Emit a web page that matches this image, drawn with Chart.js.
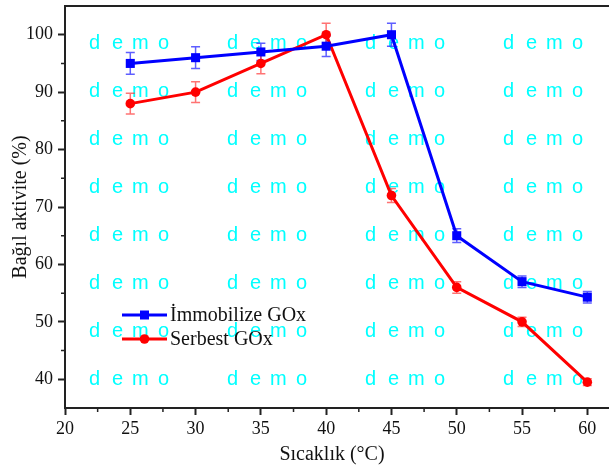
<!DOCTYPE html>
<html>
<head>
<meta charset="utf-8">
<script src="https://cdn.jsdelivr.net/npm/chart.js@4.4.1/dist/chart.umd.min.js"></script>
<style>
html, body { margin: 0; padding: 0; background: #fff; }
canvas { display: block; }
</style>
</head>
<body>
<canvas id="chart" width="609" height="471"></canvas>
<script>
const temps = [25, 30, 35, 40, 45, 50, 55, 60];
const immobilize = [95, 96, 97, 98, 100, 65, 57, 54.3];
const immobilizeErr = [1.9, 1.9, 1.5, 1.8, 2.0, 1.2, 1.0, 1.0];
const serbest = [88, 90, 95, 100, 72, 56, 50, 39.5];
const serbestErr = [1.8, 1.8, 1.8, 2.0, 1.2, 1.0, 0.8, 0.6];
const xTicks = [20, 25, 30, 35, 40, 45, 50, 55, 60];
const yTicks = [40, 50, 60, 70, 80, 90, 100];
const seriesNames = ["İmmobilize GOx", "Serbest GOx"];

const serif = "'Liberation Serif', 'Times New Roman', serif";
const axisColor = "#222";

const toPoints = (ys) => temps.map((t, i) => ({ x: t, y: ys[i] }));

// cyan "d e m o" watermark behind the data
const watermark = {
    id: "watermark",
    beforeDatasetsDraw(chart) {
        const ctx = chart.ctx;
        ctx.save();
        ctx.fillStyle = "#00ffff";
        ctx.font = "20px 'Liberation Sans', Arial, sans-serif";
        ctx.textBaseline = "middle";
        const letters = ["d", "e", "m", "o"];
        const offs = [0, 23, 43, 69];
        for (let r = 0; r < 8; r++) {
            for (let c = 0; c < 4; c++) {
                const x0 = 89 + c * 138;
                const y0 = 43 + r * 48;
                letters.forEach((l, k) => ctx.fillText(l, x0 + offs[k], y0));
            }
        }
        ctx.restore();
    }
};

const errorBars = {
    id: "errorBars",
    beforeDatasetsDraw(chart) {
        const ctx = chart.ctx;
        const xs = chart.scales.x, ys = chart.scales.y;
        const errs = [immobilizeErr, serbestErr];
        const vals = [immobilize, serbest];
        const cols = ["rgba(40,40,255,0.75)", "rgba(255,40,40,0.65)"];
        ctx.save();
        vals.forEach((arr, i) => {
            ctx.strokeStyle = cols[i];
            ctx.lineWidth = 1.5;
            arr.forEach((v, j) => {
                const x = xs.getPixelForValue(temps[j]);
                const yt = ys.getPixelForValue(v + errs[i][j]);
                const yb = ys.getPixelForValue(v - errs[i][j]);
                ctx.beginPath();
                ctx.moveTo(x, yt); ctx.lineTo(x, yb);
                ctx.moveTo(x - 4.5, yt); ctx.lineTo(x + 4.5, yt);
                ctx.moveTo(x - 4.5, yb); ctx.lineTo(x + 4.5, yb);
                ctx.stroke();
            });
        });
        ctx.restore();
    }
};

const frameAndText = {
    id: "frameAndText",
    afterDatasetsDraw(chart) {
        const ctx = chart.ctx;
        const a = chart.chartArea;
        const xs = chart.scales.x, ys = chart.scales.y;
        ctx.save();

        // legend
        ctx.font = "20px " + serif;
        ctx.textBaseline = "middle";
        chart.data.datasets.forEach((ds, i) => {
            const y = 315 + i * 24;
            ctx.strokeStyle = ds.borderColor;
            ctx.lineWidth = 3;
            ctx.beginPath();
            ctx.moveTo(122, y); ctx.lineTo(167, y);
            ctx.stroke();
            ctx.fillStyle = ds.borderColor;
            if (i === 0) {
                ctx.fillRect(140, y - 4.5, 9, 9);
            } else {
                ctx.beginPath();
                ctx.arc(144.5, y, 4.8, 0, Math.PI * 2);
                ctx.fill();
            }
            ctx.fillStyle = "#111";
            ctx.fillText(ds.label, 170, y + 1);
        });

        // top frame line
        ctx.strokeStyle = axisColor;
        ctx.lineWidth = 2;
        ctx.beginPath();
        ctx.moveTo(a.left, a.top); ctx.lineTo(a.right, a.top);
        ctx.stroke();

        // minor ticks
        ctx.lineWidth = 1.5;
        ctx.beginPath();
        for (let v = 22.5; v < xs.max; v += 5) {
            const x = xs.getPixelForValue(v);
            ctx.moveTo(x, a.bottom); ctx.lineTo(x, a.bottom + 4);
        }
        for (let v = 45; v < 105; v += 10) {
            const y = ys.getPixelForValue(v);
            ctx.moveTo(a.left, y); ctx.lineTo(a.left - 4, y);
        }
        ctx.stroke();

        // axis titles
        ctx.fillStyle = "#111";
        ctx.font = "20px " + serif;
        ctx.textAlign = "center";
        ctx.textBaseline = "middle";
        ctx.fillText("Sıcaklık (°C)", 332, 455);
        ctx.translate(21, (a.top + a.bottom) / 2);
        ctx.rotate(-Math.PI / 2);
        ctx.fillText("Bağıl aktivite (%)", 0, 0);
        ctx.restore();
    }
};

new Chart(document.getElementById("chart"), {
    type: "line",
    data: {
        datasets: [
            {
                label: seriesNames[0],
                data: toPoints(immobilize),
                borderColor: "#0000ff",
                backgroundColor: "#0000ff",
                borderWidth: 3,
                pointStyle: "rect",
                pointRadius: 6.4,
                pointBorderWidth: 0,
                tension: 0
            },
            {
                label: seriesNames[1],
                data: toPoints(serbest),
                borderColor: "#ff0000",
                backgroundColor: "#ff0000",
                borderWidth: 3,
                pointStyle: "circle",
                pointRadius: 4.8,
                pointBorderWidth: 0,
                tension: 0
            }
        ]
    },
    options: {
        responsive: false,
        animation: false,
        events: [],
        layout: { autoPadding: false, padding: { top: 6, right: 0, left: 0, bottom: 0 } },
        plugins: {
            legend: { display: false },
            tooltip: { enabled: false }
        },
        scales: {
            x: {
                type: "linear",
                min: 20,
                max: 61.66,
                afterBuildTicks: (s) => { s.ticks = xTicks.map(v => ({ value: v })); },
                afterFit: (s) => { s.height = 63; s.paddingLeft = 0; s.paddingRight = 0; },
                grid: { drawOnChartArea: false, drawTicks: true, tickLength: 7, tickWidth: 2, tickColor: axisColor },
                border: { display: true, width: 2, color: axisColor },
                ticks: { padding: 3, color: "#111", font: { family: serif, size: 18 }, maxRotation: 0 }
            },
            y: {
                type: "linear",
                min: 35,
                max: 105,
                afterBuildTicks: (s) => { s.ticks = yTicks.map(v => ({ value: v })); },
                afterFit: (s) => { s.width = 65; s.paddingTop = 0; s.paddingBottom = 0; },
                grid: { drawOnChartArea: false, drawTicks: true, tickLength: 7, tickWidth: 2, tickColor: axisColor },
                border: { display: true, width: 2, color: axisColor },
                ticks: { padding: 5, color: "#111", font: { family: serif, size: 18 } }
            }
        }
    },
    plugins: [watermark, errorBars, frameAndText]
});
</script>
</body>
</html>
